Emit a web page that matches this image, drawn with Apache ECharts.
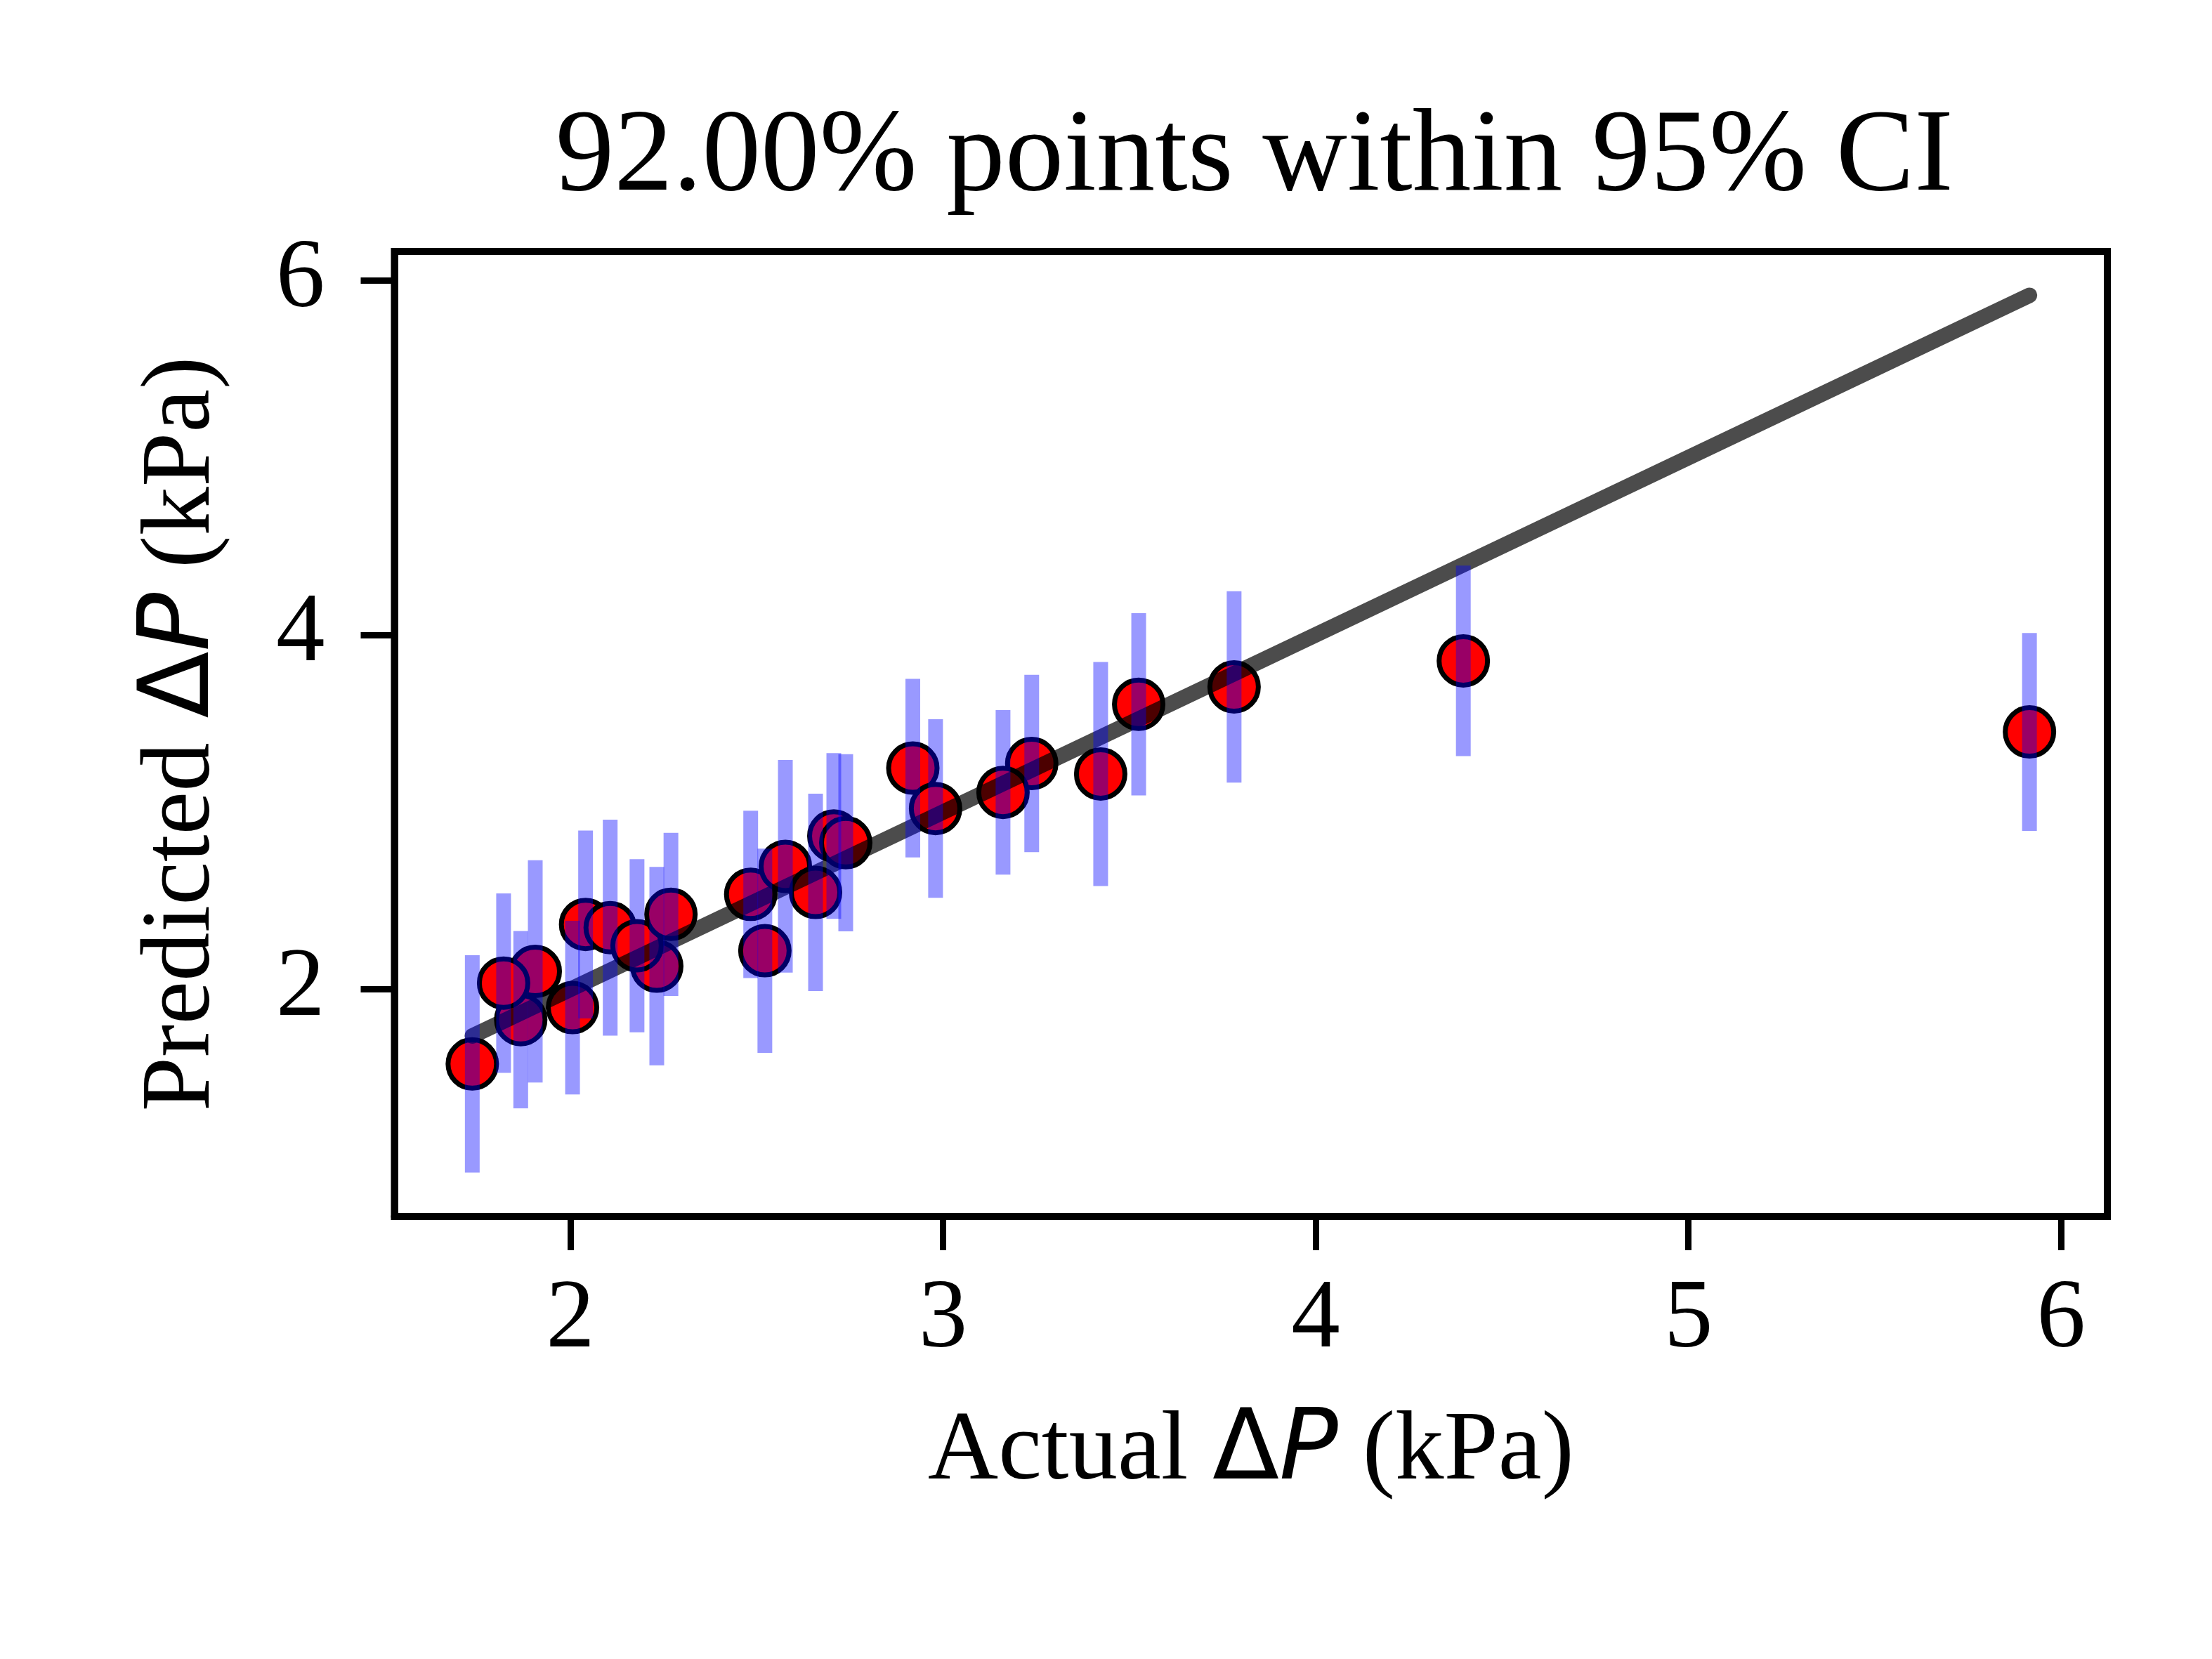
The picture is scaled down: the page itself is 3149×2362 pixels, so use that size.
<!DOCTYPE html>
<html>
<head>
<meta charset="utf-8">
<script src="https://cdn.jsdelivr.net/npm/echarts@6/dist/echarts.min.js"></script>
<style>
html, body { margin: 0; padding: 0; background: #fff; }
#chart { width: 3149px; height: 2362px; }
</style>
</head>
<body>
<div id="chart"></div>
<script>
// ---- data ----
const actual    = [1.737, 1.867, 1.906, 1.821, 2.006, 2.041, 2.107, 2.232, 2.179, 2.270,
                   2.484, 2.522, 2.577, 2.658, 2.707, 2.739, 2.919, 2.980, 3.238, 3.161,
                   3.423, 3.525, 3.781, 4.396, 5.915];
const predicted = [1.579, 1.829, 2.101, 2.035, 1.897, 2.366, 2.348, 2.131, 2.246, 2.423,
                   2.536, 2.218, 2.694, 2.547, 2.865, 2.827, 3.248, 3.020, 3.274, 3.111,
                   3.215, 3.608, 3.706, 3.853, 3.452];
const ciHalf    = [0.613, 0.500, 0.627, 0.506, 0.490, 0.530, 0.609, 0.560, 0.488, 0.460,
                   0.472, 0.576, 0.600, 0.557, 0.468, 0.500, 0.504, 0.504, 0.500, 0.464,
                   0.632, 0.514, 0.540, 0.537, 0.558];
const xTicks = [2, 3, 4, 5, 6];
const yTicks = [2, 4, 6];
const titleText = '92.00% points within 95% CI';

// ---- derived ----
const scatterData = actual.map((a, i) => [a, predicted[i]]);
const errData = actual.map((a, i) => [a, predicted[i] - ciHalf[i], predicted[i] + ciHalf[i]]);
const lo = Math.min(...actual), hi = Math.max(...actual);
const lineData = [[lo, lo], [hi, hi]];

// matplotlib-style 5% auto margins
const margin = 0.05;
const xr = hi - lo;
const xMin = lo - margin * xr, xMax = hi + margin * xr;
const yLoData = Math.min(...errData.map(d => d[1]), lo);
const yHiData = Math.max(...errData.map(d => d[2]), hi);
const yr = yHiData - yLoData;
const yMin = yLoData - margin * yr, yMax = yHiData + margin * yr;

const SERIF = 'Liberation Serif, Times New Roman, serif';
const SANS = 'DejaVu Sans, sans-serif';
const FS = 139;

const W = 3149, H = 2362;
const G = { left: 561.5, right: 149, top: 358, bottom: 630 };
const plotCenterX = G.left + (W - G.left - G.right) / 2;

const richName = {
  a: { fontFamily: SERIF, fontSize: FS, lineHeight: FS, color: '#000' },
  d: { fontFamily: SANS, fontSize: FS, lineHeight: FS, color: '#000' },
  p: { fontFamily: SANS, fontSize: FS, lineHeight: FS, fontStyle: 'italic', color: '#000' }
};

const chart = echarts.init(document.getElementById('chart'), null, { renderer: 'canvas', devicePixelRatio: 1 });

chart.setOption({
  animation: false,
  backgroundColor: '#fff',
  title: {
    text: titleText,
    left: plotCenterX,
    textAlign: 'center',
    top: 138,
    textStyle: { fontFamily: SERIF, fontSize: 167, lineHeight: 167, fontWeight: 'normal', color: '#000' }
  },
  grid: {
    left: G.left, right: G.right, top: G.top, bottom: G.bottom,
    show: true, borderColor: '#000', borderWidth: 10, backgroundColor: 'transparent'
  },
  xAxis: {
    type: 'value', min: xMin, max: xMax,
    name: '{a|Actual }{d|Δ}{p|P}{a| (kPa)}',
    nameLocation: 'middle', nameGap: 267,
    nameTextStyle: { rich: richName },
    axisLine: { show: true, lineStyle: { color: '#000', width: 10 } },
    axisTick: { show: true, customValues: xTicks, length: 48, lineStyle: { color: '#000', width: 9 } },
    axisLabel: { customValues: xTicks, margin: 79, fontFamily: SERIF, fontSize: FS, lineHeight: FS, color: '#000' },
    splitLine: { show: false }
  },
  yAxis: {
    type: 'value', min: yMin, max: yMax,
    name: '{a|Predicted }{d|Δ}{p|P}{a| (kPa)}',
    nameLocation: 'middle', nameGap: 232,
    nameTextStyle: { rich: richName },
    axisLine: { show: true, lineStyle: { color: '#000', width: 10 } },
    axisTick: { show: true, customValues: yTicks, length: 48, lineStyle: { color: '#000', width: 9 } },
    axisLabel: { customValues: yTicks, margin: 99, fontFamily: SERIF, fontSize: FS, lineHeight: FS, color: '#000' },
    splitLine: { show: false }
  },
  series: [
    {
      type: 'scatter', z: 2,
      data: scatterData,
      symbol: 'circle', symbolSize: 69,
      itemStyle: { color: '#ff0000', borderColor: '#000', borderWidth: 7, opacity: 1 },
      emphasis: { disabled: true }
    },
    {
      type: 'line', z: 3,
      data: lineData,
      symbol: 'none',
      lineStyle: { color: 'rgba(0,0,0,0.7)', width: 22, cap: 'round' },
      emphasis: { disabled: true }
    },
    {
      type: 'custom', z: 4,
      data: errData,
      encode: { x: 0, y: [1, 2] },
      renderItem: function (params, api) {
        const p1 = api.coord([api.value(0), api.value(1)]);
        const p2 = api.coord([api.value(0), api.value(2)]);
        return {
          type: 'line',
          shape: { x1: p1[0], y1: p1[1], x2: p2[0], y2: p2[1] },
          style: { stroke: 'rgba(0,0,255,0.4)', lineWidth: 21, lineCap: 'butt' }
        };
      }
    }
  ]
});
</script>
</body>
</html>
